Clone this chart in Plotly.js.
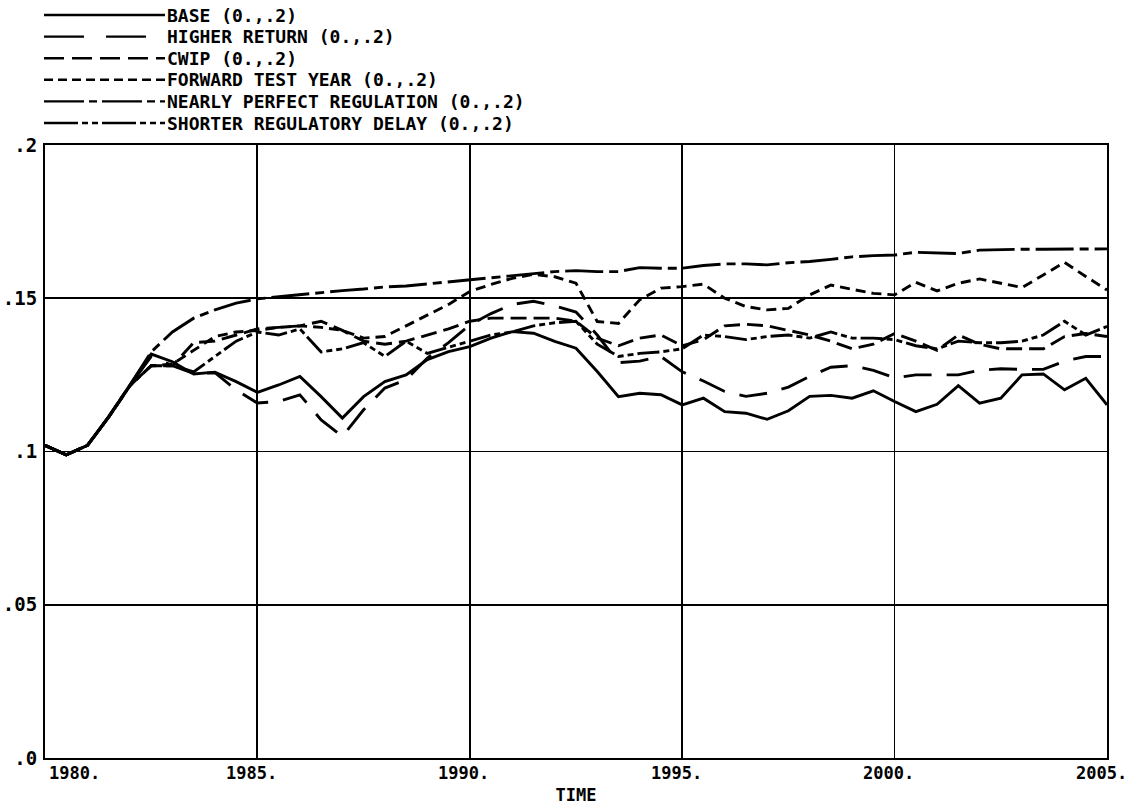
<!DOCTYPE html>
<html><head><meta charset="utf-8">
<script src="https://cdn.plot.ly/plotly-3.0.1.min.js"></script>
<style>html,body{margin:0;padding:0;background:#fff;}#chart{width:1131px;height:807px;}</style>
</head><body><div id="chart"></div>
<script>
const TIME = [1980,1980.5,1981,1981.5,1982,1982.5,1983,1983.5,1984,1984.5,
1985,1985.5,1986,1986.5,1987,1987.5,1988,1988.5,1989,1989.5,
1990,1990.5,1991,1991.5,1992,1992.5,1993,1993.5,1994,1994.5,
1995,1995.5,1996,1996.5,1997,1997.5,1998,1998.5,1999,1999.5,
2000,2000.5,2001,2001.5,2002,2002.5,2003,2003.5,2004,2004.5,2005];

const BASE = [0.102,0.0989,0.102,0.1114,0.1217,0.1318,0.1293,0.1253,0.1259,0.1228,
0.1193,0.1217,0.1245,0.1179,0.1109,0.1179,0.1228,0.125,0.130,0.1326,
0.1342,0.137,0.1391,0.1386,0.1359,0.1337,0.1261,0.1179,0.119,0.1185,
0.1152,0.1174,0.113,0.1125,0.1105,0.1133,0.118,0.1183,0.1174,0.1198,
0.1163,0.113,0.1154,0.1215,0.1158,0.1174,0.125,0.1253,0.1201,0.1239,0.1152];

const HIGHER_RETURN = [0.102,0.0989,0.102,0.1112,0.1215,0.131,0.128,0.1255,0.1257,0.1201,
0.1158,0.1163,0.1185,0.1103,0.1049,0.1136,0.1207,0.1234,0.1305,0.1355,
0.1413,0.145,0.148,0.149,0.1475,0.1455,0.138,0.129,0.1295,0.131,
0.126,0.123,0.1196,0.118,0.119,0.121,0.1245,0.1275,0.128,0.1265,
0.124,0.125,0.125,0.125,0.1265,0.127,0.1268,0.1268,0.1295,0.131,0.131];

const CWIP = [0.102,0.0989,0.102,0.1112,0.1215,0.128,0.128,0.1355,0.136,0.138,
0.140,0.1405,0.141,0.1425,0.1395,0.136,0.135,0.136,0.138,0.140,
0.1425,0.1435,0.1435,0.1435,0.1435,0.1425,0.137,0.1345,0.137,0.138,
0.1345,0.1365,0.141,0.1415,0.141,0.1395,0.138,0.136,0.1335,0.135,
0.1385,0.136,0.133,0.138,0.135,0.1335,0.1335,0.1335,0.1375,0.1385,0.1375];

const FORWARD_TEST_YEAR = [0.102,0.0989,0.102,0.1112,0.1215,0.128,0.1285,0.133,0.1375,0.139,
0.1395,0.1405,0.141,0.1405,0.1395,0.137,0.1375,0.141,0.1445,0.148,
0.1522,0.1545,0.1565,0.1578,0.157,0.1549,0.1424,0.1418,0.1495,0.1533,
0.1538,0.1546,0.150,0.1473,0.1462,0.1467,0.1511,0.1543,0.1529,0.1516,
0.1511,0.1552,0.1524,0.1549,0.1563,0.1549,0.1535,0.1576,0.1617,0.1571,0.1527];

const NEARLY_PERFECT = [0.102,0.0989,0.102,0.1114,0.1217,0.1325,0.139,0.1435,0.1462,0.1484,
0.1498,0.1505,0.1513,0.152,0.1525,0.153,0.1537,0.154,0.1547,0.1552,
0.1559,0.1567,0.1574,0.158,0.1587,0.159,0.1587,0.1587,0.160,0.1598,
0.1598,0.1607,0.1612,0.1612,0.1609,0.1616,0.162,0.1627,0.1635,0.1639,
0.1641,0.165,0.1648,0.1646,0.1657,0.1659,0.166,0.166,0.1661,0.1661,0.1661];

const SHORTER_DELAY = [0.102,0.0989,0.102,0.1112,0.1215,0.128,0.128,0.126,0.131,0.136,
0.139,0.138,0.140,0.1325,0.1335,0.1355,0.131,0.136,0.132,0.134,
0.136,0.138,0.139,0.141,0.142,0.1425,0.135,0.131,0.132,0.1325,
0.1335,0.138,0.1375,0.1365,0.1375,0.138,0.137,0.139,0.137,0.137,
0.1365,0.1345,0.1335,0.136,0.1355,0.1355,0.136,0.138,0.1425,0.138,0.1408];

const SERIES_NAMES = ["BASE (0.,.2)","HIGHER RETURN (0.,.2)","CWIP (0.,.2)",
  "FORWARD TEST YEAR (0.,.2)","NEARLY PERFECT REGULATION (0.,.2)","SHORTER REGULATORY DELAY (0.,.2)"];
const SERIES_VALUES = [BASE, HIGHER_RETURN, CWIP, FORWARD_TEST_YEAR, NEARLY_PERFECT, SHORTER_DELAY];
const X_TICKS = [1980,1985,1990,1995,2000,2005];
const X_TICK_TEXT = ["1980.","1985.","1990.","1995.","2000.","2005."];
const Y_TICKS = [0,0.05,0.1,0.15,0.2];
const Y_TICK_TEXT = [".0",".05",".1",".15",".2"];
const X_TITLE = "TIME";

const DASHES = ["solid","28px,15px","16px,7px","10px,6px","38px,6px,9px,6px","22px,4px,6px,4px,6px,4px"];
const LEGEND_DASHES = ["solid","40px,22px","20px,8px","9px,5px","40px,5px,8px,5px","34px,4px,6px,4px,6px,4px"];
const FONT = "DejaVu Sans Mono, Liberation Mono, monospace";

const M = {l:45, r:24, t:145, b:49};
const W = 1131, H = 807;
const plotH = H - M.t - M.b;
const plotW = W - M.l - M.r;

const traces = SERIES_VALUES.map((vals,i)=>({
  x: TIME, y: vals, type:'scatter', mode:'lines', name: SERIES_NAMES[i],
  line:{color:'#000', width:2.9, dash:DASHES[i]}, showlegend:false, hoverinfo:'skip'
}));

const shapes = [];
const annotations = [];
SERIES_NAMES.forEach((nm,i)=>{
  const rowY = 15 + 21.6*i;
  const py = (H - M.b - rowY) / plotH;
  shapes.push({type:'line', xref:'paper', yref:'paper',
    x0:(44-M.l)/plotW, x1:(165-M.l)/plotW, y0:py, y1:py,
    line:{color:'#000', width:2.4, dash:LEGEND_DASHES[i]}});
  annotations.push({xref:'paper', yref:'paper', x:(165-M.l)/plotW, y:py,
    xanchor:'left', yanchor:'middle', showarrow:false, text:nm,
    font:{family:FONT, size:18, color:'#000', weight:'bold'}});
});
X_TICKS.forEach((t,i)=>{
  annotations.push({xref:'x', yref:'paper', x:t, y:0, yanchor:'top', yshift:-3,
    xanchor: i===0 ? 'left' : 'center', xshift: i===0 ? 2 : -6,
    showarrow:false, text:X_TICK_TEXT[i],
    font:{family:FONT, size:17, color:'#000', weight:'bold'}});
});

const layout = {
  width:W, height:H, margin:M, paper_bgcolor:'#fff', plot_bgcolor:'#fff',
  showlegend:false,
  xaxis:{range:[1980,2005], tickvals:X_TICKS, showticklabels:false, showgrid:true,
    gridcolor:'#000', gridwidth:1.8, zeroline:false, showline:true, linecolor:'#000',
    linewidth:2, mirror:true, ticks:'',
    title:{text:X_TITLE, font:{family:FONT,size:17,color:'#000',weight:'bold'}, standoff:30}},
  yaxis:{range:[0,0.2], tickvals:Y_TICKS, ticktext:Y_TICK_TEXT, showgrid:true,
    gridcolor:'#000', gridwidth:1.8, zeroline:false, showline:true, linecolor:'#000',
    linewidth:2, mirror:true, ticks:'', ticklabelstandoff:2,
    tickfont:{family:FONT,size:19,color:'#000',weight:'bold'}},
  shapes, annotations
};
Plotly.newPlot('chart', traces, layout, {displayModeBar:false, staticPlot:true});
</script></body></html>
